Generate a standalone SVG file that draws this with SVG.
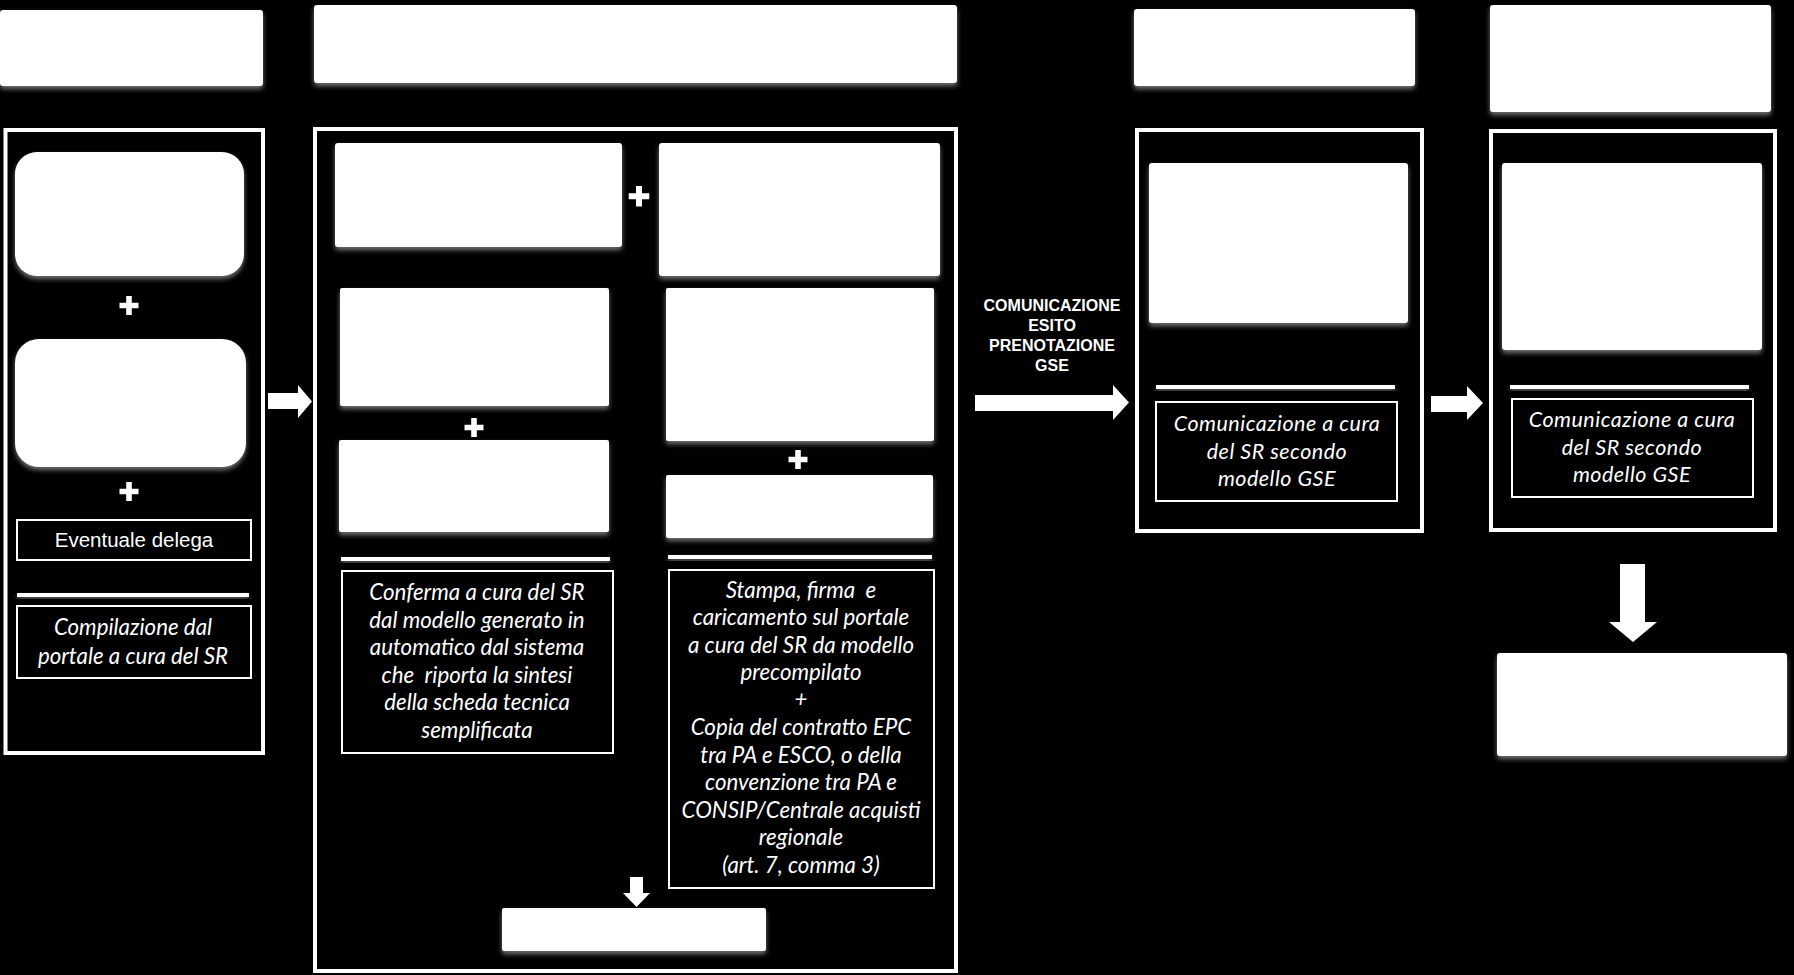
<svg xmlns="http://www.w3.org/2000/svg" width="1794" height="975" viewBox="0 0 1794 975">
<defs>
<filter id="sh" x="-10%" y="-20%" width="120%" height="150%">
<feDropShadow dx="0" dy="3" stdDeviation="2.5" flood-color="#9a9a9a" flood-opacity="0.75"/>
</filter>
</defs>
<style>
.wb{fill:#fff;filter:url(#sh)}
.frame{fill:none;stroke:#fff;stroke-width:4}
.tbox{fill:#000;stroke:#fff;stroke-width:2}
.sep{fill:#fff;filter:url(#sh)}
.it{font-family:Lato,"Open Sans",sans-serif;font-style:italic;font-size:22.3px;fill:#fff;text-anchor:middle}
.it2{font-family:Lato,"Open Sans",sans-serif;font-style:italic;font-size:21.5px;fill:#fff;text-anchor:middle;letter-spacing:0.5px}
.reg{font-family:"Liberation Sans",Arial,sans-serif;font-size:20.5px;fill:#fff;text-anchor:middle}
.lbl{font-family:"Liberation Sans",Arial,sans-serif;font-weight:bold;font-size:16px;fill:#fff;text-anchor:middle}
.plus{fill:#fff}
.arrow{fill:#fff}
</style>
<rect x="0" y="0" width="1794" height="975" fill="#000"/>

<g id="header1"><rect class="wb" x="0" y="10" width="263" height="76" rx="3"/></g>
<g id="header2"><rect class="wb" x="314" y="5" width="643" height="78" rx="3"/></g>
<g id="header3"><rect class="wb" x="1134" y="9" width="281" height="77" rx="3"/></g>
<g id="header4"><rect class="wb" x="1490" y="5" width="281" height="107" rx="3"/></g>

<g id="column1">
<rect class="frame" x="5.5" y="130" width="257.5" height="623"/>
<g id="c1-box1"><rect class="wb" x="15" y="152" width="229" height="124" rx="22"/></g>
<g id="c1-plus1"><path class="plus" d="M126.2 296 h5.6 v6.7 h6.7 v5.6 h-6.7 v6.7 h-5.6 v-6.7 h-6.7 v-5.6 h6.7 z"/></g>
<g id="c1-box2"><rect class="wb" x="15" y="339" width="231" height="128" rx="24"/></g>
<g id="c1-plus2"><path class="plus" d="M126.2 482 h5.6 v6.7 h6.7 v5.6 h-6.7 v6.7 h-5.6 v-6.7 h-6.7 v-5.6 h6.7 z"/></g>
<g id="c1-delega"><rect class="tbox" x="17" y="520" width="234" height="40"/><text class="reg" x="134" y="547">Eventuale delega</text></g>
<rect class="sep" x="17" y="593" width="232" height="4"/>
<g id="c1-note"><rect class="tbox" x="17" y="606" width="234" height="72"/>
<text class="it" x="133" y="635">Compilazione dal</text>
<text class="it" x="133" y="664">portale a cura del SR</text></g>
</g>

<g id="column2">
<rect class="frame" x="315" y="129" width="641" height="842"/>
<g id="c2-boxA"><rect class="wb" x="335" y="143" width="287" height="104" rx="3"/></g>
<g id="c2-plusAB"><path class="plus" d="M636 186 h6 v7.3 h7.3 v6 h-7.3 v7.3 h-6 v-7.3 h-7.3 v-6 h7.3 z"/></g>
<g id="c2-boxB"><rect class="wb" x="659" y="143" width="281" height="133" rx="3"/></g>
<g id="c2-boxC"><rect class="wb" x="340" y="288" width="269" height="118" rx="2"/></g>
<g id="c2-plusCD"><path class="plus" d="M471.2 418 h5.6 v6.7 h6.7 v5.6 h-6.7 v6.7 h-5.6 v-6.7 h-6.7 v-5.6 h6.7 z"/></g>
<g id="c2-boxD"><rect class="wb" x="339" y="440" width="270" height="92" rx="2"/></g>
<g id="c2-boxE"><rect class="wb" x="666" y="288" width="268" height="153" rx="2"/></g>
<g id="c2-plusEF"><path class="plus" d="M795.2 450 h5.6 v6.7 h6.7 v5.6 h-6.7 v6.7 h-5.6 v-6.7 h-6.7 v-5.6 h6.7 z"/></g>
<g id="c2-boxF"><rect class="wb" x="666" y="475" width="267" height="63" rx="2"/></g>
<rect class="sep" x="341" y="557" width="269" height="4"/>
<rect class="sep" x="668" y="555" width="264" height="4"/>
<g id="c2-noteL"><rect class="tbox" x="342" y="571" width="271" height="182"/>
<text class="it" x="477" y="600">Conferma a cura del SR</text>
<text class="it" x="477" y="628">dal modello generato in</text>
<text class="it" x="477" y="655">automatico dal sistema</text>
<text class="it" x="477" y="683">che&#160; riporta la sintesi</text>
<text class="it" x="477" y="710">della scheda tecnica</text>
<text class="it" x="477" y="738">semplificata</text></g>
<g id="c2-noteR"><rect class="tbox" x="669" y="570" width="265" height="318"/>
<text class="it" x="801" y="598">Stampa, firma&#160; e</text>
<text class="it" x="801" y="625">caricamento sul portale</text>
<text class="it" x="801" y="653">a cura del SR da modello</text>
<text class="it" x="801" y="680">precompilato</text>
<text class="it" x="801" y="707">+</text>
<text class="it" x="801" y="735">Copia del contratto EPC</text>
<text class="it" x="801" y="763">tra PA e ESCO, o della</text>
<text class="it" x="801" y="790">convenzione tra PA e</text>
<text class="it" x="801" y="818">CONSIP/Centrale acquisti</text>
<text class="it" x="801" y="845">regionale</text>
<text class="it" x="801" y="873">(art. 7, comma 3)</text></g>
<g id="c2-boxG"><rect class="wb" x="502" y="908" width="264" height="43" rx="2"/></g>
</g>

<g id="column3">
<rect class="frame" x="1137" y="130" width="285" height="401"/>
<g id="c3-box"><rect class="wb" x="1149" y="163" width="259" height="160" rx="3"/></g>
<rect class="sep" x="1156" y="385" width="239" height="4"/>
<g id="c3-note"><rect class="tbox" x="1156" y="402" width="241" height="99"/>
<text class="it2" x="1277" y="431">Comunicazione a cura</text>
<text class="it2" x="1277" y="459">del SR secondo</text>
<text class="it2" x="1277" y="486">modello GSE</text></g>
</g>

<g id="column4">
<rect class="frame" x="1491" y="131" width="284" height="399"/>
<g id="c4-box"><rect class="wb" x="1502" y="163" width="260" height="187" rx="3"/></g>
<rect class="sep" x="1510" y="385" width="239" height="4"/>
<g id="c4-note"><rect class="tbox" x="1512" y="399" width="241" height="98"/>
<text class="it2" x="1632" y="427">Comunicazione a cura</text>
<text class="it2" x="1632" y="455">del SR secondo</text>
<text class="it2" x="1632" y="482">modello GSE</text></g>
</g>

<g id="c4-final"><rect class="wb" x="1497" y="653" width="290" height="103" rx="3"/></g>

<g id="connectors">
<path class="arrow" d="M268 393 H298 V385 L312 401.5 L298 418 V409 H268 Z"/>
<path class="arrow" d="M975 395 H1113 V385 L1129 402.5 L1113 420 V411 H975 Z"/>
<text class="lbl" x="1052" y="311">COMUNICAZIONE</text>
<text class="lbl" x="1052" y="331">ESITO</text>
<text class="lbl" x="1052" y="351">PRENOTAZIONE</text>
<text class="lbl" x="1052" y="371">GSE</text>
<path class="arrow" d="M1431 396 H1467 V386 L1483 403 L1467 420 V412 H1431 Z"/>
<path class="arrow" d="M630 877 H643 V893 H650 L636.5 907 L623 893 H630 Z"/>
<path class="arrow" d="M1620 564 H1645 V622 H1657 L1633 642 L1609 622 H1620 Z"/>
</g>
</svg>
